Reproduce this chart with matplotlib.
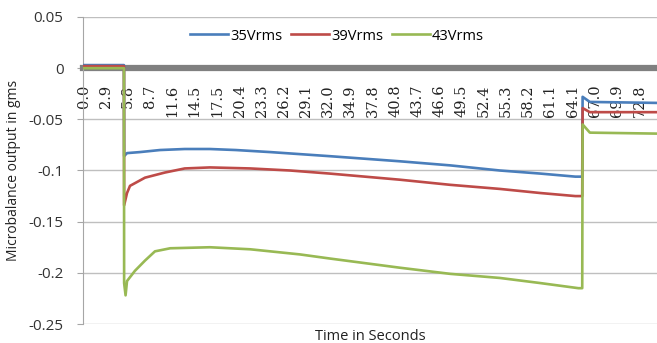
import matplotlib
matplotlib.use("Agg")
import matplotlib.pyplot as plt

plt.rcParams['font.family'] = ['Open Sans', 'DejaVu Sans']

# time (s) and balance output (gms)
t_35 = [0, 5.24, 5.26, 5.64, 7.34, 9.96, 13.2, 16.5, 19.9, 24.4, 28.3, 32.2,
        41.4, 48.0, 54.5, 59.8, 64.4, 65.3, 65.35, 66.3, 75.5]
v_35 = [0.003, 0.003, -0.086, -0.083, -0.082, -0.080, -0.079, -0.079, -0.080,
        -0.082, -0.084, -0.086, -0.091, -0.095, -0.100, -0.103, -0.106, -0.106,
        -0.028, -0.033, -0.034]

t_39 = [0, 5.24, 5.26, 5.64, 6.03, 8.0, 10.6, 13.2, 16.5, 21.8, 27.0, 32.2,
        41.4, 48.0, 54.5, 59.8, 64.4, 65.3, 65.35, 66.3, 75.5]
v_39 = [0.002, 0.002, -0.134, -0.122, -0.115, -0.107, -0.102, -0.098, -0.097,
        -0.098, -0.100, -0.103, -0.109, -0.114, -0.118, -0.122, -0.125, -0.125,
        -0.039, -0.043, -0.043]

t_43 = [0, 5.24, 5.26, 5.45, 5.64, 6.68, 8.0, 9.3, 11.3, 16.5, 21.8, 28.3, 32.2,
        41.4, 48.0, 54.5, 59.8, 64.8, 65.3, 65.35, 66.3, 75.5]
v_43 = [0.0, 0.0, -0.21, -0.222, -0.208, -0.198, -0.188, -0.179, -0.176, -0.175,
        -0.177, -0.182, -0.186, -0.195, -0.201, -0.205, -0.210, -0.215, -0.215,
        -0.055, -0.063, -0.064]

series_labels = ['35Vrms', '39Vrms', '43Vrms']
series_colors = ['#4a7ebb', '#be4b48', '#98b954']

x_ticks = [0.0, 2.9, 5.8, 8.7, 11.6, 14.5, 17.5, 20.4, 23.3, 26.2, 29.1, 32.0,
           34.9, 37.8, 40.8, 43.7, 46.6, 49.5, 52.4, 55.3, 58.2, 61.1, 64.1,
           67.0, 69.9, 72.8]
y_ticks = [0.05, 0, -0.05, -0.1, -0.15, -0.2, -0.25]
y_tick_labels = ['0.05', '0', '-0.05', '-0.1', '-0.15', '-0.2', '-0.25']

fig = plt.figure(figsize=(6.57, 3.43), dpi=100)
ax = fig.add_axes([83 / 657, 19 / 343, 1 - 83 / 657, 307 / 343])

# axis crosses at zero, like the excel original (do this before tick setup)
ax.spines['bottom'].set_position(('data', 0))
ax.spines['bottom'].set_color('#808080')
ax.spines['bottom'].set_linewidth(4.5)
ax.spines['bottom'].set_zorder(2)
ax.spines['left'].set_color('#a6a6a6')
ax.spines['top'].set_visible(False)
ax.spines['right'].set_visible(False)

ax.plot(t_35, v_35, color=series_colors[0], lw=1.9, label=series_labels[0], zorder=3)
ax.plot(t_39, v_39, color=series_colors[1], lw=1.9, label=series_labels[1], zorder=3)
ax.plot(t_43, v_43, color=series_colors[2], lw=1.9, label=series_labels[2], zorder=4)

ax.set_xlim(-0.13, 75.1)
ax.set_ylim(-0.25, 0.05)

ax.set_yticks(y_ticks)
ax.set_yticklabels(y_tick_labels, fontsize=11, color='#333333')
ax.tick_params(axis='y', length=4, color='#a6a6a6', pad=10)
ax.grid(axis='y', color='#bfbfbf', lw=1)
ax.set_axisbelow(True)

ax.set_xticks(x_ticks)
ax.set_xticklabels(['%.1f' % v for v in x_ticks], rotation=90,
                   fontsize=10.5, family='DejaVu Serif', color='#222222')
ax.tick_params(axis='x', length=0, pad=12)

ax.set_ylabel('Microbalance output in gms', fontsize=10, color='#222222')
ax.yaxis.set_label_coords(-62 / 574, 0.5)
fig.text(370 / 657, 6 / 343, 'Time in Seconds', ha='center', va='center',
         fontsize=10.5, color='#222222')

ax.legend(loc='center', bbox_to_anchor=((337 - 83) / 574, (324 - 36) / 307),
          ncol=3, frameon=False, fontsize=10.5, handlelength=2.6,
          handletextpad=0.15, columnspacing=0.6, borderaxespad=0)

fig.savefig('out.png', dpi=100)
